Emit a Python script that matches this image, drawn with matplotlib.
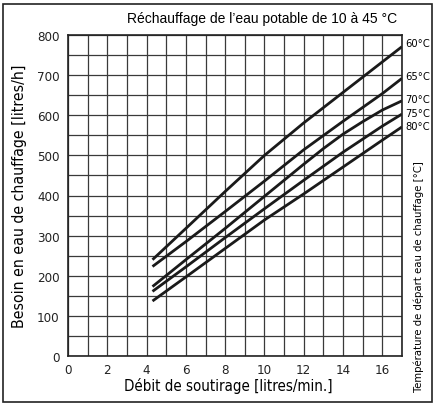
import matplotlib
matplotlib.use('Agg')
import matplotlib.pyplot as plt
from matplotlib.patches import Rectangle

# debit de soutirage [litres/min.]
x60 = [4.3, 6, 8, 10, 12, 14, 16, 17]
y60 = [240, 318, 410, 500, 581, 657, 733, 771]
x65 = [4.3, 6, 8, 10, 12, 14, 16, 17]
y65 = [223, 285, 360, 436, 514, 585, 654, 692]
x70 = [4.3, 6, 8, 10, 12, 13, 14, 15, 16, 17]
y70 = [173, 240, 318, 398, 478, 517, 553, 584, 613, 636]
x75 = [4.3, 6, 8, 10, 12, 14, 16, 17]
y75 = [161, 222, 295, 367, 438, 508, 573, 603]
x80 = [4.3, 6, 8, 10, 12, 14, 16, 17]
y80 = [137, 197, 268, 339, 404, 471, 538, 571]

courbes = [(x60, y60, '60°C'), (x65, y65, '65°C'), (x70, y70, '70°C'),
           (x75, y75, '75°C'), (x80, y80, '80°C')]
label_y = [780, 697, 640, 606, 573]

xticks = list(range(0, 17, 2))
yticks = list(range(0, 801, 100))

plt.rcParams['font.family'] = ['DejaVu Sans']
plt.rcParams['font.stretch'] = 'condensed'

W, H = 436, 406
fig = plt.figure(figsize=(W / 100, H / 100), dpi=100)
ax = fig.add_axes([68 / W, 1 - 357 / H, (402 - 68) / W, (357 - 36) / H])

for x, y, nom in courbes:
  ax.plot(x, y, color='#1a1a1a', lw=2.0, solid_capstyle='butt')

for (x, y, nom), ly in zip(courbes, label_y):
  ax.text(17.15, ly, nom, fontsize=8, va='center', ha='left', clip_on=False)

ax.set_xlim(0, 17)
ax.set_ylim(0, 800)
ax.set_xticks(xticks)
ax.set_yticks(yticks)
ax.set_xticks(range(0, 18), minor=True)
ax.set_yticks(range(0, 801, 50), minor=True)
ax.grid(which='both', color='#3a3a3a', lw=0.9)
ax.set_axisbelow(True)
ax.tick_params(which='both', length=0, labelsize=9.5, colors='#222222')
ax.tick_params(axis='x', pad=5)
ax.tick_params(axis='y', pad=6)
for s in ax.spines.values():
  s.set_color('#222222')
  s.set_linewidth(1.2)

fig.text(262 / W, 1 - 19 / H, 'Réchauffage de l’eau potable de 10 à 45 °C',
         ha='center', va='center', fontsize=10, family=['Liberation Sans', 'DejaVu Sans'])
fig.text(228 / W, 1 - 386 / H, 'Débit de soutirage [litres/min.]',
         ha='center', va='center', fontsize=10.8)
fig.text(20 / W, 1 - 196 / H, 'Besoin en eau de chauffage [litres/h]',
         ha='center', va='center', rotation=90, fontsize=11.3)
fig.text(419 / W, 1 - 392 / H, 'Température de départ eau de chauffage [°C]',
         ha='center', va='bottom', rotation=90, fontsize=8.1)

fig.patches.append(Rectangle((3 / W, 3 / H), (432 - 3) / W, (404 - 6) / H,
                             transform=fig.transFigure, fill=False,
                             edgecolor='#222222', lw=1.2))

fig.savefig('out.png', dpi=100)
